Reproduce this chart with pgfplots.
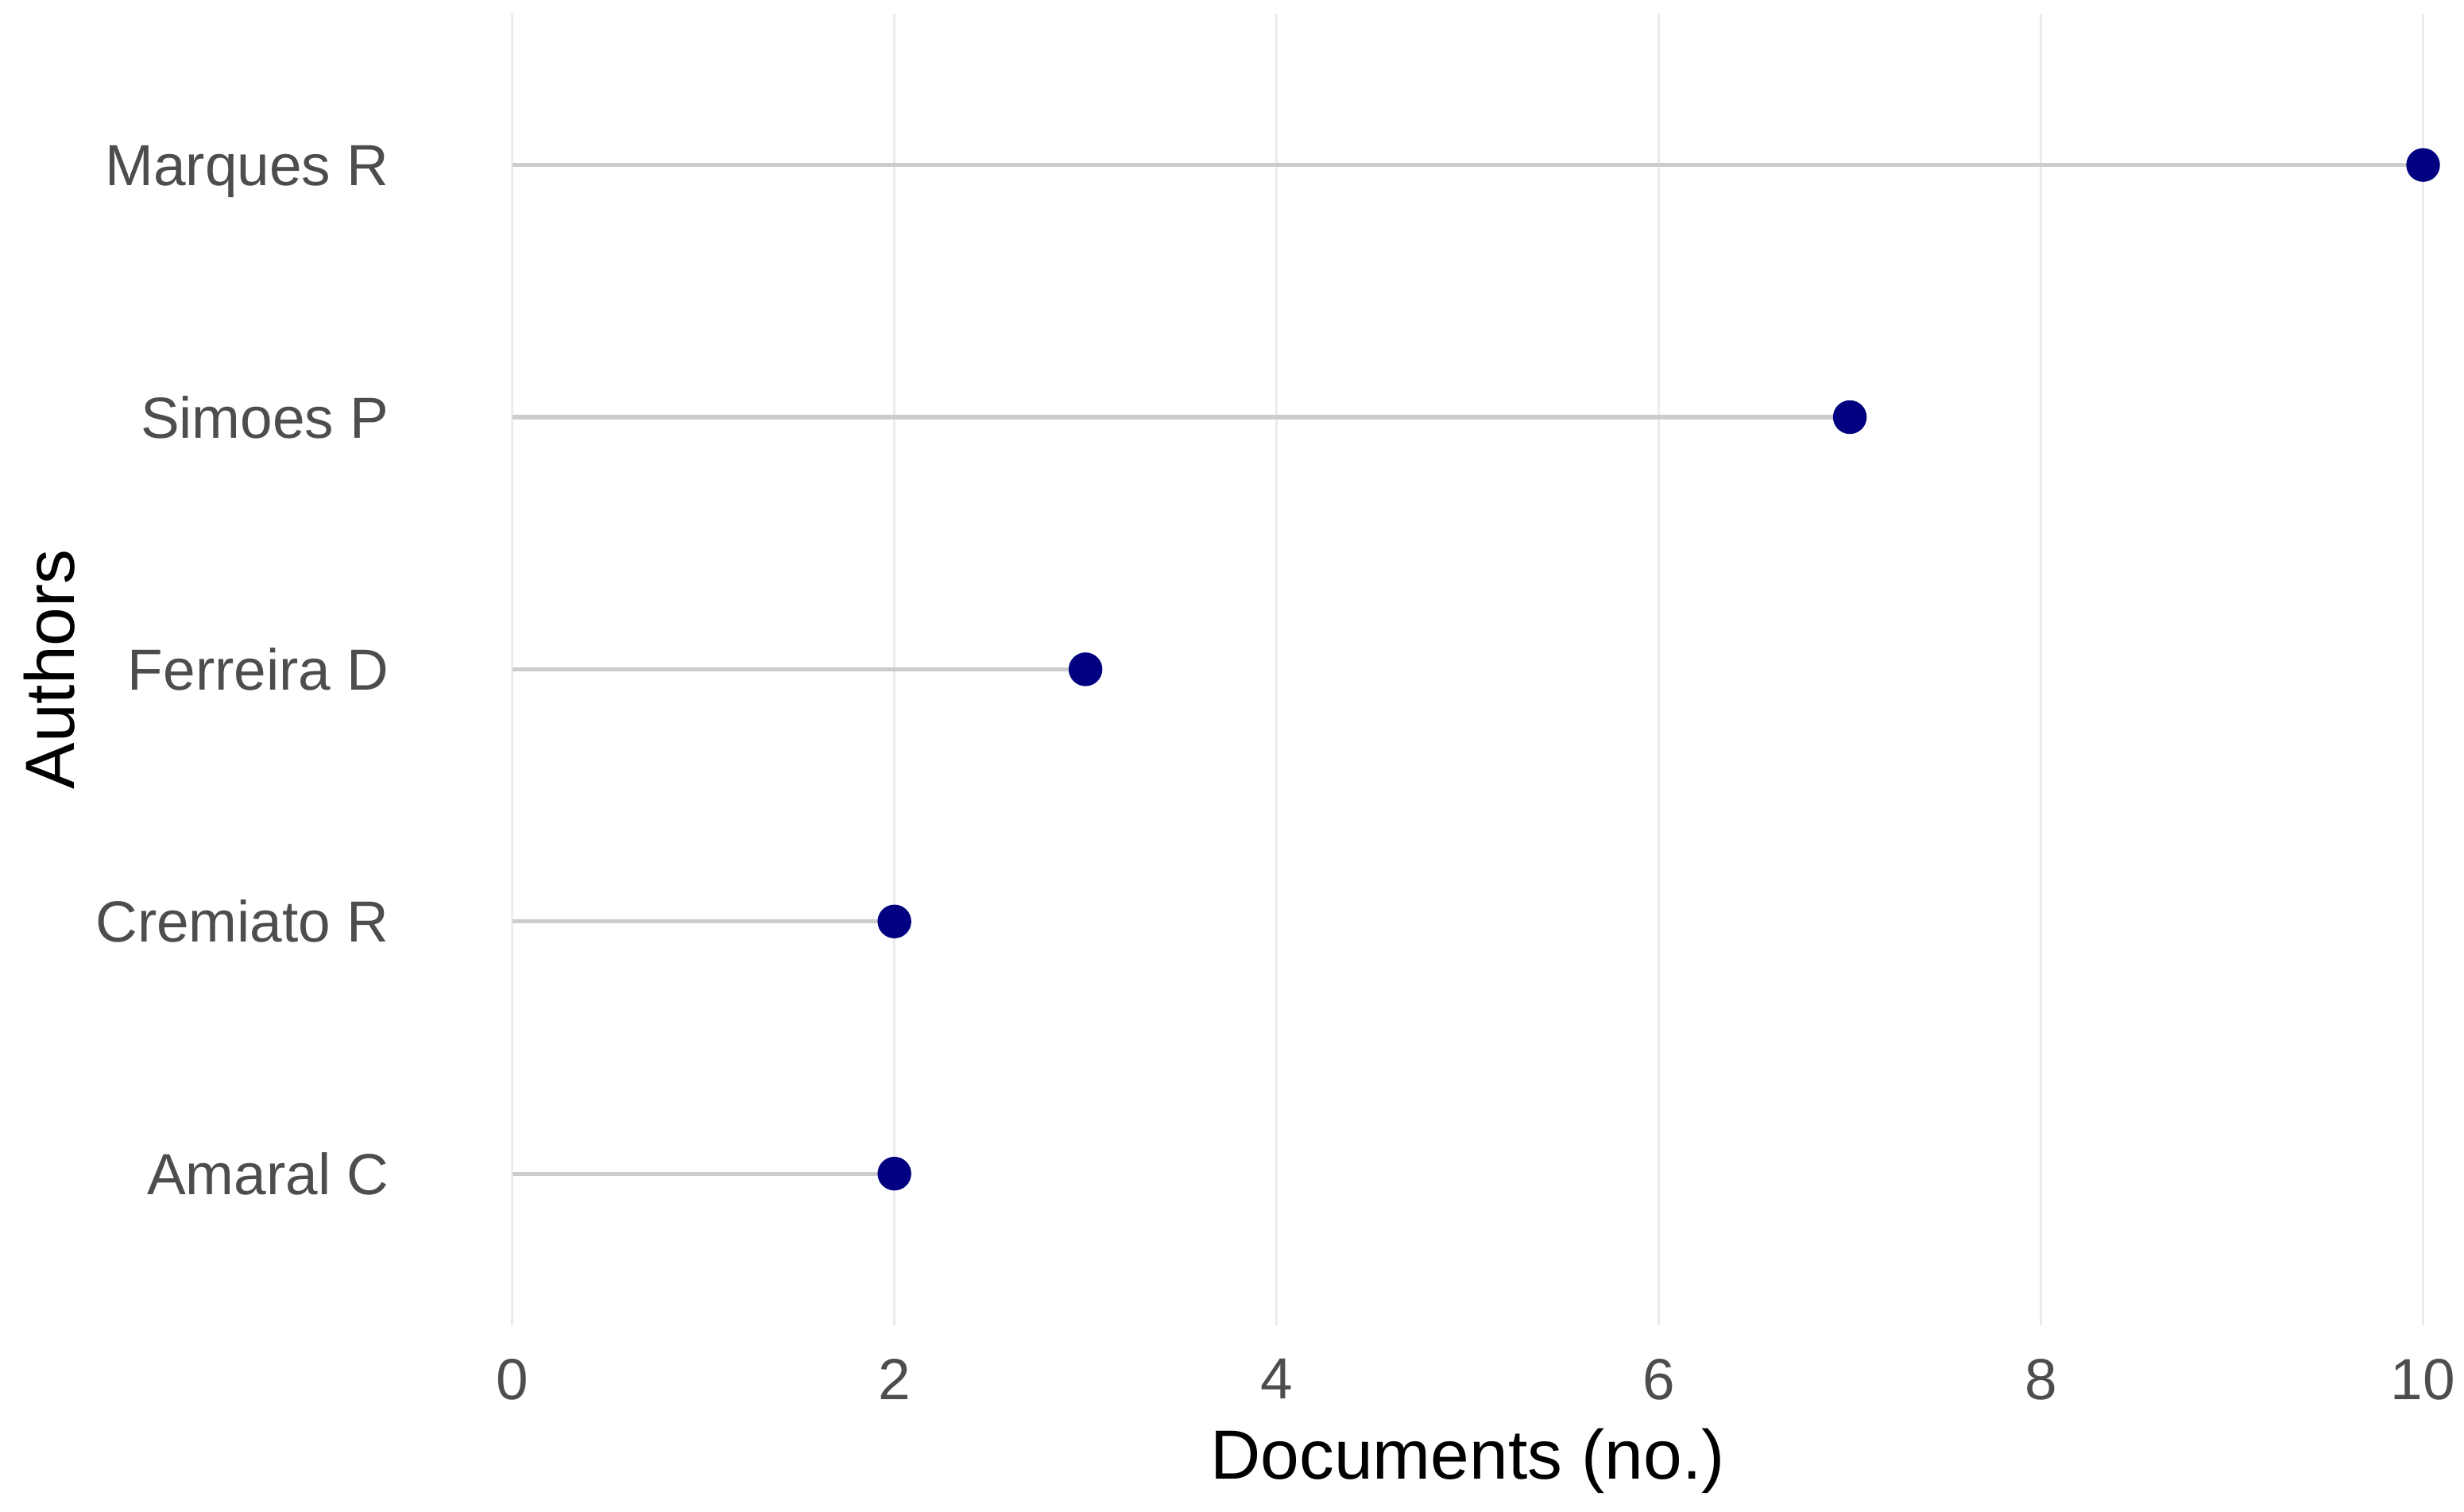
\documentclass[border=0pt]{standalone}
\usepackage{fontspec}
\setmainfont{Liberation Sans}
\usepackage{pgfplots}
\pgfplotsset{compat=1.18}
\definecolor{ptnavy}{RGB}{0,0,128}
\definecolor{segray}{RGB}{204,204,204}
\definecolor{gridgray}{RGB}{235,235,235}
\definecolor{ticktext}{RGB}{77,77,77}

\begin{document}
\begin{tikzpicture}
\begin{axis}[
    scale only axis,
    width=13.03cm, height=8.346cm,
    xmin=-0.5, xmax=10.214, ymin=0.4, ymax=5.6,
    xtick={0,2,4,6,8,10},
    ytick={1,2,3,4,5},
    yticklabels={Amaral C, Cremiato R, Ferreira D, Simoes P, Marques R},
    axis line style={draw=none},
    major tick length=0pt,
    tick style={draw=none},
    xmajorgrids, ymajorgrids=false,
    grid style={gridgray, line width=0.45pt},
    /pgf/number format/assume math mode=true,
    tick label style={font=\fontsize{10.5}{12}\selectfont, text=ticktext},
    xticklabel style={anchor=north, inner sep=0pt, yshift=-0.21cm},
    yticklabel style={anchor=base east, inner sep=0pt, xshift=-0.17cm, yshift=-0.132cm},
    xlabel={Documents (no.)},
    ylabel={Authors},
    label style={font=\fontsize{12.6}{14}\selectfont, text=black},
    xlabel style={at={(axis description cs:0.5134,-0.1174)}, anchor=base},
    ylabel style={at={(axis description cs:-0.1673,0.5)}, anchor=base},
    clip=false,
]
% lollipop stems from 0
\addplot[xcomb, segray, line width=0.75pt] coordinates {(2,1) (2,2) (3,3) (7,4) (10,5)};
% points
\addplot[only marks, mark=*, mark size=2.85pt, ptnavy, mark options={draw=ptnavy, fill=ptnavy}]
    coordinates {(2,1) (2,2) (3,3) (7,4) (10,5)};
\end{axis}
\path ([xshift=-2.652cm,yshift=-1.18cm]current axis.south west) rectangle ([yshift=0.087cm]current axis.north east);
\end{tikzpicture}
\end{document}
